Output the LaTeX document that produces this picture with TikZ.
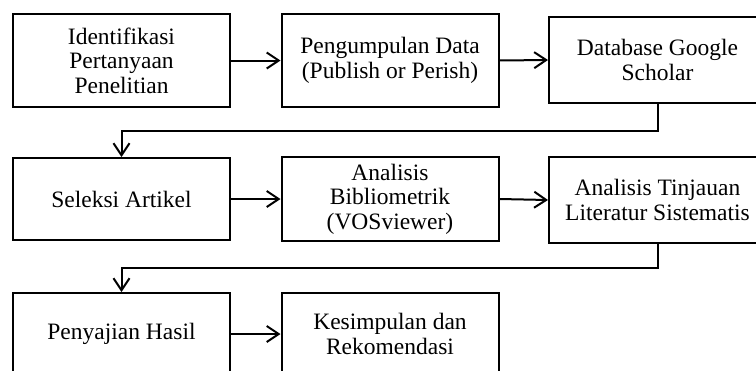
\documentclass[tikz,border=0pt]{standalone}
\usepackage{fontspec}
\setmainfont{Liberation Serif}
\usetikzlibrary{arrows.meta}

\begin{document}
\begin{tikzpicture}[x=1pt,y=-1pt,
  box/.style={draw=black, line width=2pt, minimum width=217pt, align=center,
    inner sep=0pt, font=\fontsize{23.5}{24.5}\selectfont},
  link/.style={line width=2pt, -{Straight Barb[length=12pt,width=16pt]}}]
  \useasboundingbox (0,0) rectangle (756,370);
  \clip (0,0) rectangle (756,370);

  % first row
  \node[box, minimum height=93pt] (b1) at (121.5,60.5) {Identifikasi\\Pertanyaan\\Penelitian};
  \node[box, minimum height=93pt] (b2) at (390,60.5) {Pengumpulan Data\\(Publish or Perish)};
  \node[box, minimum height=86pt] (b3) at (657.5,60) {Database Google\\Scholar};

  % second row
  \node[box, minimum height=82pt] (b4) at (121.5,199) {Seleksi Artikel};
  \node[box, minimum height=84pt] (b5) at (390,199) {Analisis\\Bibliometrik\\(VOSviewer)};
  \node[box, minimum height=86pt] (b6) at (657.5,200) {Analisis Tinjauan\\Literatur Sistematis};

  % third row
  \node[box, minimum height=82pt] (b7) at (121.5,334) {Penyajian Hasil};
  \node[box, minimum height=82pt] (b8) at (390,334) {Kesimpulan dan\\Rekomendasi};

  % turning points of the row-to-row links
  \coordinate (t1) at (0,130.5);
  \coordinate (t2) at (0,268);

  \draw[link] (b1.east) -- (b2.west);
  \draw[link] (b2.east) -- (b3.west);
  \draw[link] (b3.south) -- (b3.south |- t1) -| (b4.north);
  \draw[link] (b4.east) -- (b5.west);
  \draw[link] (b5.east) -- (b6.west);
  \draw[link] (b6.south) -- (b6.south |- t2) -| (b7.north);
  \draw[link] (b7.east) -- (b8.west);
\end{tikzpicture}
\end{document}
